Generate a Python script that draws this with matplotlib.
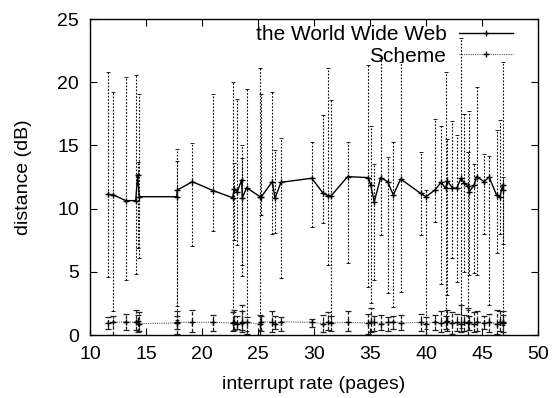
import matplotlib
matplotlib.use("Agg")
import matplotlib.pyplot as plt
from matplotlib.lines import Line2D

plt.rcParams['font.family'] = ['Liberation Sans', 'DejaVu Sans']

# World Wide Web series: x, y, low, high
www_x = [11.58, 12.08, 13.21, 14.08, 14.26, 14.4, 17.74, 17.8, 19.14, 21.0,
         22.74, 22.86, 23.15, 23.54, 23.6, 23.99, 25.18, 25.3, 26.28, 26.52,
         27.05, 29.8, 30.83, 31.22, 31.52, 33.0, 34.85, 35.06, 35.38, 35.95,
         36.58, 37.08, 37.74, 39.53, 40.0, 40.8, 41.34, 41.76, 41.9, 42.35,
         42.74, 43.13, 43.42, 43.72, 43.87, 44.3, 44.52, 45.2, 45.63, 46.3,
         46.6, 46.85, 46.9]
www_y = [11.13, 11.08, 10.63, 10.63, 12.66, 10.94, 10.94, 11.47, 12.13, 11.42,
         10.86, 11.55, 11.34, 12.26, 10.86, 11.65, 10.94, 10.94, 12.13, 10.81,
         12.08, 12.4, 11.2, 11.03, 11.0, 12.53, 12.45, 11.87, 10.55, 12.45,
         12.13, 11.08, 12.34, 11.2, 10.94, 11.47, 12.08, 11.6, 12.2, 11.65,
         11.6, 12.4, 12.0, 11.82, 11.34, 11.87, 12.53, 12.13, 12.5, 11.08,
         10.94, 11.87, 11.5]
www_lo = [4.56, 1.9, 4.35, 4.8, 6.86, 6.07, 2.3, 1.2, 7.04, 8.23,
          0.3, 7.5, 7.1, 5.5, 4.7, 0.3, 0.4, 9.5, 8.0, 8.05,
          4.48, 8.57, 8.83, 5.5, 1.05, 5.67, 3.8, 2.5, 4.35, 7.9,
          3.3, 2.2, 3.4, 7.9, 0.5, 8.97, 4.0, 0.5, 3.2, 6.07,
          4.2, 0.55, 5.0, 2.0, 4.75, 4.9, 4.75, 8.0, 2.4, 6.5,
          8.0, 0.8, 7.2]
www_hi = [20.78, 19.2, 20.4, 20.6, 13.7, 19.1, 14.7, 13.8, 15.2, 19.07,
          20.04, 13.6, 18.7, 15.0, 14.0, 19.5, 21.1, 19.1, 19.2, 14.6,
          15.56, 15.3, 17.4, 21.1, 18.6, 15.3, 21.4, 16.5, 13.5, 21.9,
          14.1, 15.3, 21.6, 14.5, 11.5, 17.1, 16.5, 20.8, 15.5, 16.9,
          15.8, 23.5, 17.5, 14.5, 17.7, 13.5, 19.6, 14.3, 14.2, 16.2,
          17.0, 21.6, 12.5]

# Scheme series: x, y, low, high
sch_x = www_x
sch_y = [0.95, 1.0, 1.05, 1.0, 1.1, 0.9, 0.95, 1.0, 1.0, 1.0,
         0.95, 1.05, 0.9, 0.95, 1.0, 1.0, 0.85, 1.05, 1.0, 0.9,
         1.05, 1.0, 0.9, 1.0, 0.95, 1.0, 0.95, 1.05, 1.0, 0.9,
         1.0, 1.05, 0.95, 1.0, 0.9, 1.05, 0.95, 1.0, 1.1, 0.95,
         1.0, 0.9, 1.05, 0.95, 1.0, 0.9, 1.05, 0.95, 1.0, 0.9,
         1.05, 1.0, 0.95]
sch_lo = [0.5, 0.0, 0.4, 0.4, 0.2, 0.3, 0.1, 0.5, 0.2, 0.3,
          0.3, 0.4, 0.5, 0.2, 0.4, 0.1, 0.0, 0.3, 0.2, 0.5,
          0.3, 0.6, 0.2, 0.4, 0.3, 0.3, 0.1, 0.2, 0.3, 0.4,
          0.3, 0.5, 0.4, 0.3, 0.0, 0.4, 0.2, 0.5, 0.3, 0.1,
          0.3, 0.2, 0.3, 0.0, 0.4, 0.2, 0.3, 0.5, 0.2, 0.1,
          0.3, 0.0, 0.2]
sch_hi = [1.45, 1.5, 1.7, 2.0, 1.6, 1.8, 1.9, 1.5, 2.0, 1.6,
          1.8, 2.0, 1.5, 1.9, 2.4, 1.4, 1.6, 1.5, 1.9, 1.5,
          1.4, 1.3, 1.6, 1.8, 1.5, 1.9, 1.7, 2.1, 1.5, 1.6,
          1.4, 1.5, 1.6, 1.7, 1.4, 1.6, 1.9, 1.5, 2.0, 1.8,
          1.7, 2.4, 1.6, 2.1, 1.5, 1.8, 1.9, 1.5, 1.7, 2.0,
          1.9, 1.9, 1.6]

xticks = [10, 15, 20, 25, 30, 35, 40, 45, 50]
yticks = [0, 5, 10, 15, 20, 25]

fig = plt.figure(figsize=(5.53, 3.98), dpi=100)
ax = fig.add_axes([90/553, 1-335/398, (538-90)/553, (335-19)/398])

# World Wide Web
www_err = [[y - l for y, l in zip(www_y, www_lo)], [h - y for y, h in zip(www_y, www_hi)]]
eb1 = ax.errorbar(www_x, www_y, yerr=www_err, fmt='none', ecolor='black',
                  elinewidth=0.8, capsize=1.5, capthick=0.6)
for lc in eb1[2]:
    lc.set_linestyle((0, (1.5, 1.5)))
ax.plot(www_x, www_y, color='black', lw=1.0, marker='+', ms=5, mew=1.0)

# Scheme
sch_err = [[y - l for y, l in zip(sch_y, sch_lo)], [h - y for y, h in zip(sch_y, sch_hi)]]
eb2 = ax.errorbar(sch_x, sch_y, yerr=sch_err, fmt='none', ecolor='#222222',
                  elinewidth=0.9, capsize=2, capthick=0.9)
for lc in eb2[2]:
    lc.set_linestyle((0, (3, 1.5)))
ax.plot(sch_x, sch_y, color='#555555', lw=0.8, ls=(0, (1, 1)), marker='+', ms=5,
        mew=1.0, mec='black')

ax.set_xlim(10, 50)
ax.set_ylim(0, 25)
ax.set_xticks(xticks)
ax.set_yticks(yticks)
ax.tick_params(direction='in', top=True, right=True, labelsize=14, length=5, pad=8)
for s in ax.spines.values():
    s.set_linewidth(1.0)
ax.set_xlabel('interrupt rate (pages)', fontsize=14, labelpad=9)
ax.set_ylabel('distance (dB)', fontsize=14, labelpad=18)

handles = [Line2D([], [], color='black', lw=1.0, marker='+', ms=5),
           Line2D([], [], color='#555555', lw=0.8, ls=(0, (1, 1)), marker='+', ms=5, mec='black')]
ax.legend(handles, ['the World Wide Web', 'Scheme'], loc='upper right',
          bbox_to_anchor=((513 - 90) / 448, (335 - 25) / 316), frameon=False,
          markerfirst=False, fontsize=15, handlelength=2.6, handletextpad=0.6,
          labelspacing=0.12, borderpad=0.0, borderaxespad=0.0)

fig.savefig('out.png', dpi=100)
